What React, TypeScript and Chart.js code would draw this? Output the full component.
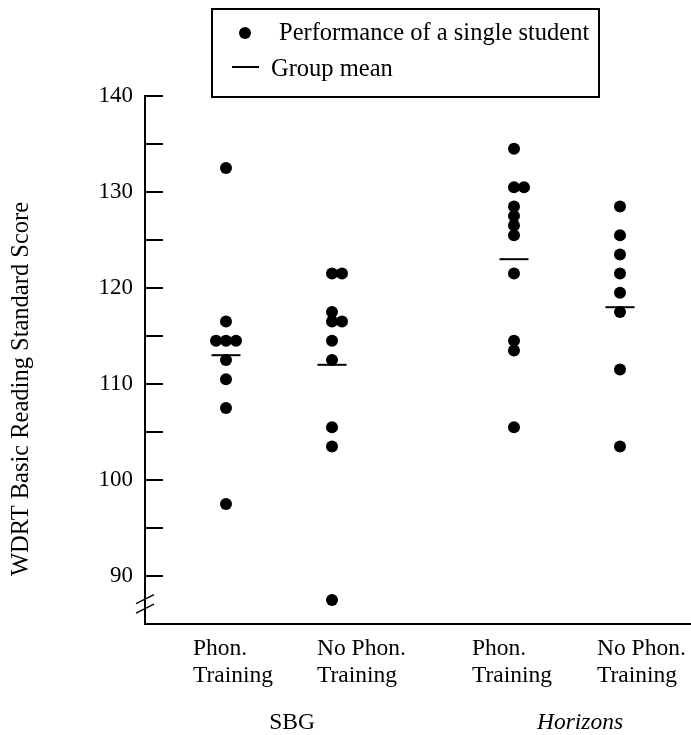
import React, { useEffect, useRef } from "react";
import { Chart, registerables } from "chart.js";

Chart.register(...registerables);

// ---- data ----
const categories: string[][] = [
  ["Phon.", "Training"],
  ["No Phon.", "Training"],
  ["Phon.", "Training"],
  ["No Phon.", "Training"],
];
const groupPositions = [0.81, 1.87, 3.69, 4.75];
const labelPositions = [0.48, 1.72, 3.27, 4.52];
const programNames = ["SBG", "Horizons"];
const programPositions = [1.47, 4.35];

const sbgPhon = [132.5, 116.5, 114.5, 114.5, 114.5, 112.5, 110.5, 107.5, 97.5];
const sbgNoPhon = [121.5, 121.5, 117.5, 116.5, 116.5, 114.5, 112.5, 105.5, 103.5, 87.5];
const horizonsPhon = [134.5, 130.5, 130.5, 128.5, 127.5, 126.5, 125.5, 121.5, 114.5, 113.5, 105.5];
const horizonsNoPhon = [128.5, 125.5, 123.5, 121.5, 119.5, 117.5, 111.5, 103.5];
const groupMeans = [113, 112, 123, 118];

const yMin = 85;
const yMax = 140;
const yStep = 5;
const yLabelStep = 10;
const yFirstTick = 90;
const breakValue = 87.1;

const yTitle = "WDRT Basic Reading Standard Score";
const legendPointText = "Performance of a single student";
const legendMeanText = "Group mean";

const FONT = "'Liberation Serif', 'Times New Roman', serif";

function spread(values: number[], center: number, step = 0.1) {
  const counts: Record<string, number> = {};
  values.forEach((v) => (counts[v] = (counts[v] || 0) + 1));
  const seen: Record<string, number> = {};
  return values.map((v) => {
    const k = counts[v];
    const i = seen[v] || 0;
    seen[v] = i + 1;
    return { x: center + (i - Math.floor((k - 1) / 2)) * step, y: v };
  });
}

const decorPlugin = {
  id: "decor",
  afterDraw(chart: any) {
    const { ctx, chartArea, scales } = chart;
    const y = scales.y;
    const x = scales.x;
    ctx.save();
    ctx.strokeStyle = "#000";
    ctx.fillStyle = "#000";
    ctx.lineWidth = 2;

    // inward tick marks
    y.ticks.forEach((t: any) => {
      if (t.value < yFirstTick) return;
      const py = Math.round(y.getPixelForValue(t.value));
      ctx.beginPath();
      ctx.moveTo(chartArea.left, py);
      ctx.lineTo(chartArea.left + 18, py);
      ctx.stroke();
    });

    // axis break marks
    const pb = y.getPixelForValue(breakValue);
    ctx.lineWidth = 1.5;
    [-4.75, 4.75].forEach((d) => {
      ctx.beginPath();
      ctx.moveTo(chartArea.left - 9, pb + d + 4.5);
      ctx.lineTo(chartArea.left + 9, pb + d - 4.5);
      ctx.stroke();
    });

    // y title
    ctx.save();
    ctx.translate(22, 389);
    ctx.rotate(-Math.PI / 2);
    ctx.font = `24.5px ${FONT}`;
    ctx.textAlign = "center";
    ctx.textBaseline = "middle";
    ctx.fillText(yTitle, 0, 0);
    ctx.restore();

    // category labels
    ctx.font = `23.5px ${FONT}`;
    ctx.textAlign = "left";
    ctx.textBaseline = "middle";
    categories.forEach((lines, i) => {
      const px = x.getPixelForValue(labelPositions[i]);
      lines.forEach((line, j) => {
        ctx.fillText(line, px, chartArea.bottom + 25 + j * 26.5);
      });
    });

    // program names
    ctx.textAlign = "center";
    programNames.forEach((name, i) => {
      ctx.font = `${i === 1 ? "italic " : ""}23.5px ${FONT}`;
      ctx.fillText(name, x.getPixelForValue(programPositions[i]), chartArea.bottom + 99);
    });

    // legend box
    ctx.lineWidth = 2;
    ctx.strokeRect(212, 9, 387, 88);
    ctx.beginPath();
    ctx.arc(245, 33, 6, 0, Math.PI * 2);
    ctx.fill();
    ctx.beginPath();
    ctx.moveTo(232, 67);
    ctx.lineTo(259, 67);
    ctx.stroke();
    ctx.font = `24.5px ${FONT}`;
    ctx.textAlign = "left";
    ctx.textBaseline = "middle";
    ctx.fillText(legendPointText, 279, 34);
    ctx.fillText(legendMeanText, 271, 70);
    ctx.restore();
  },
};

export default function App() {
  const ref = useRef<HTMLCanvasElement | null>(null);

  useEffect(() => {
    if (!ref.current) return;
    const groups = [sbgPhon, sbgNoPhon, horizonsPhon, horizonsNoPhon];
    const pointData = groups.flatMap((g, i) => spread(g, groupPositions[i]));
    const meanData = groupMeans.map((m, i) => ({ x: groupPositions[i], y: m }));

    const chart = new Chart(ref.current, {
      type: "scatter",
      data: {
        datasets: [
          {
            label: legendPointText,
            data: pointData,
            backgroundColor: "#000",
            borderWidth: 0,
            pointRadius: 6,
            pointHoverRadius: 6,
          },
          {
            label: legendMeanText,
            data: meanData,
            pointStyle: "line",
            borderColor: "#000",
            backgroundColor: "#000",
            borderWidth: 2,
            pointRadius: 14.5,
            pointHoverRadius: 14.5,
          },
        ],
      },
      options: {
        responsive: false,
        animation: false,
        events: [],
        layout: { autoPadding: false, padding: { top: 96, left: 0, right: 0, bottom: 0 } },
        plugins: {
          legend: { display: false },
          tooltip: { enabled: false },
        },
        scales: {
          x: {
            type: "linear",
            min: 0,
            max: 5.46,
            grid: { display: false, drawTicks: false },
            border: { display: true, color: "#000", width: 2 },
            ticks: { display: false },
            afterFit: (scale: any) => {
              scale.height = 111;
              scale.paddingLeft = 0;
              scale.paddingRight = 0;
            },
          },
          y: {
            type: "linear",
            min: yMin,
            max: yMax,
            grid: { display: false, drawTicks: false },
            border: { display: true, color: "#000", width: 2 },
            afterFit: (scale: any) => {
              scale.width = 145;
              scale.paddingTop = 0;
              scale.paddingBottom = 0;
            },
            ticks: {
              stepSize: yStep,
              padding: 12,
              color: "#000",
              font: { family: FONT, size: 23 },
              callback: (v: any) =>
                v >= yFirstTick && v % yLabelStep === 0 ? String(v) : "",
            },
          },
        },
      },
      plugins: [decorPlugin],
    } as any);
    return () => chart.destroy();
  }, []);

  return (
    <div style={{ position: "fixed", left: 0, top: 0, width: 691, height: 735, background: "#fff" }}>
      <canvas ref={ref} width={691} height={735} style={{ display: "block" }} />
    </div>
  );
}
